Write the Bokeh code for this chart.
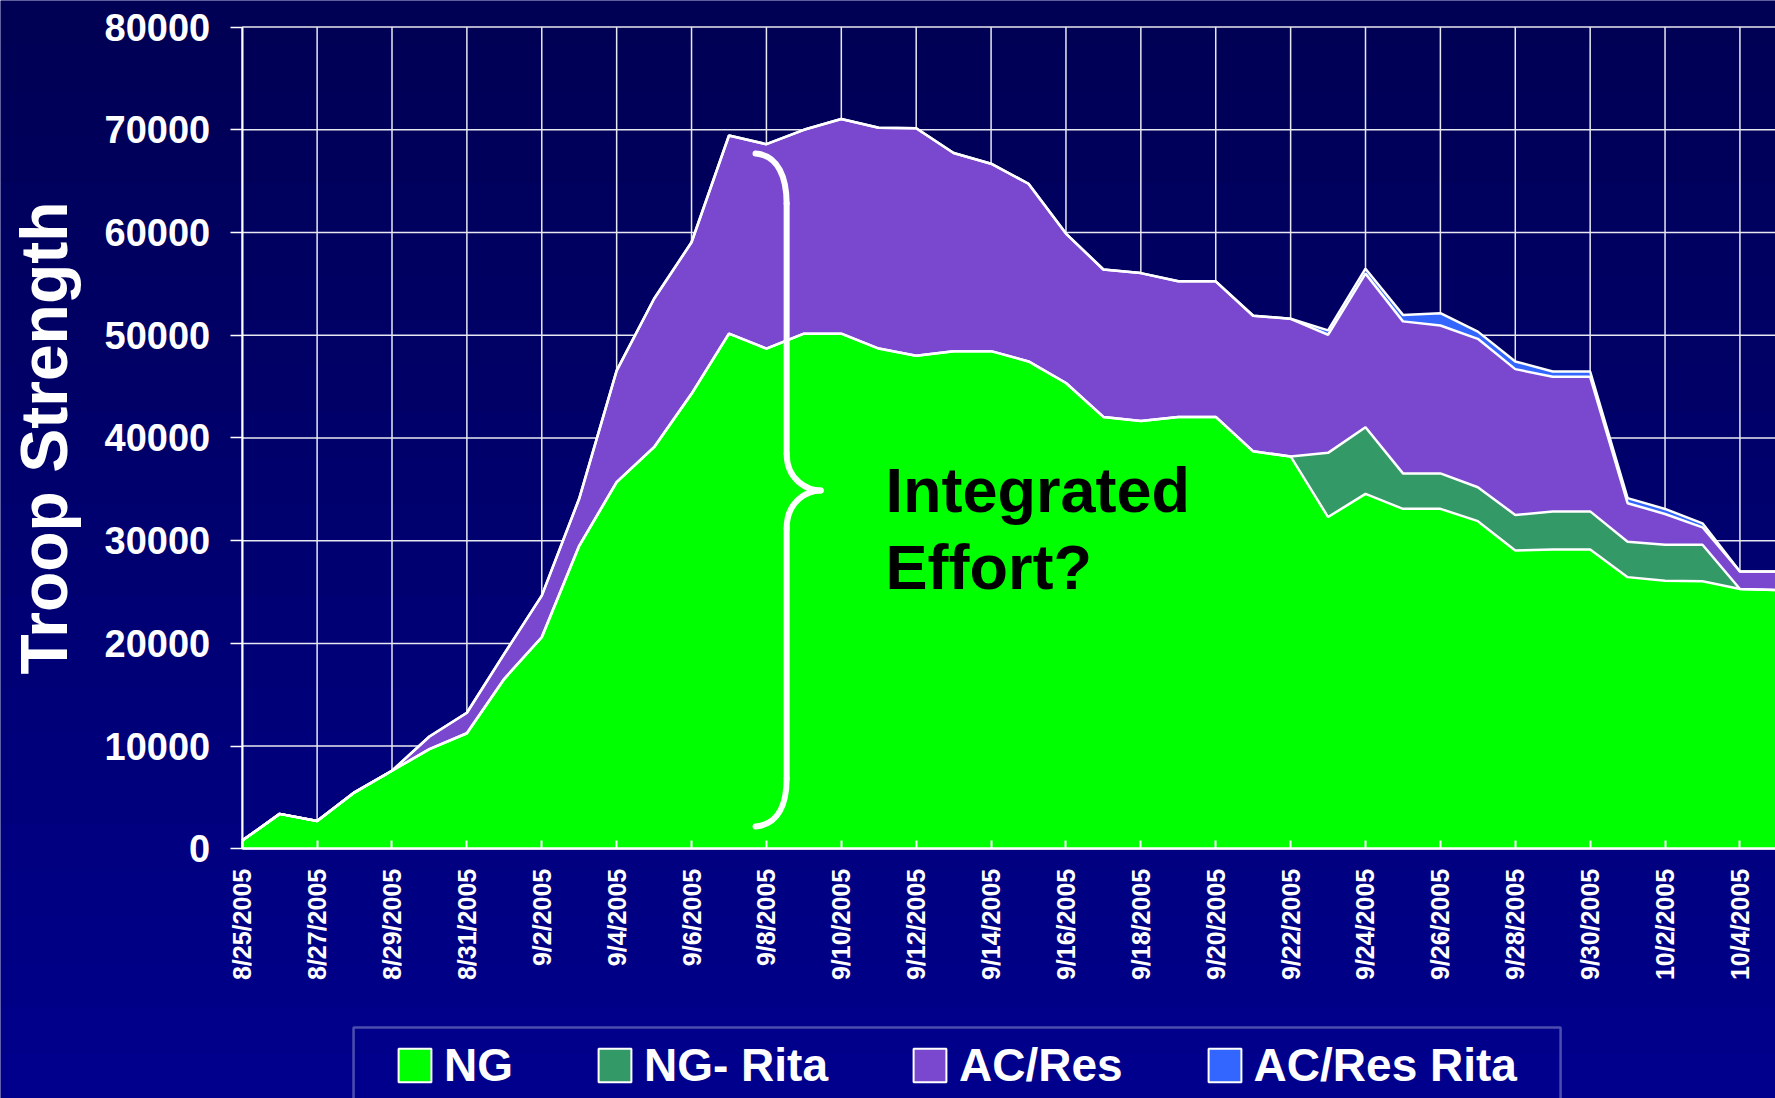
import math
import numpy as np
from bokeh.plotting import figure
from bokeh.models import (Range1d, FixedTicker, Label, Legend, LegendItem,
                          ColumnDataSource, BoxAnnotation)
from bokeh.embed import file_html
from bokeh.resources import INLINE

# ---------------- data ----------------
dates = ([f"8/{d}/2005" for d in range(25, 32)] +
         [f"9/{d}/2005" for d in range(1, 31)] +
         [f"10/{d}/2005" for d in range(1, 6)])

ng = [800, 3400, 2700, 5500, 7600, 9700, 11250, 16550, 20600, 29500,
      35700, 39100, 44300, 50150, 48700, 50150, 50150, 48700, 48000, 48450,
      48450, 47450, 45350, 42050, 41650, 42050, 42050, 38700, 38200, 32300,
      34550, 33100, 33100, 31900, 29050, 29150, 29150, 26450, 26100, 26050,
      25300, 25200]
ng_rita = [0] * 29 + [6250, 6500, 3450, 3450, 3300, 3450, 3700, 3700, 3450,
                      3500, 3550, 0, 0]
ac_res = [0, 0, 0, 0, 0, 1230, 2000, 2450, 4050, 4600,
          10850, 14450, 14750, 19300, 19900, 19850, 20900, 21500, 22150, 19300,
          18250, 17300, 14550, 14350, 14400, 13200, 13200, 13200, 13400, 11500,
          14950, 14800, 14400, 14450, 14200, 13100, 13100, 3750, 3000, 1700,
          1700, 1800]
ac_res_rita = [0] * 29 + [420, 480, 630, 1200, 700, 750, 520, 520, 490, 490,
                          390, 0, 0]

series_names = ["NG", "NG- Rita", "AC/Res", "AC/Res Rita"]
series_colors = ["#00FF00", "#339966", "#7A48CE", "#3366FF"]
y_ticks = [0, 10000, 20000, 30000, 40000, 50000, 60000, 70000, 80000]
x_tick_idx = list(range(0, 41, 2))

# ---------------- figure ----------------
FONT = "Liberation Sans"
GRID = "#e8e8f0"
X0, X1 = -6.456, 40.95
Y0, Y1 = -24310, 82590

# the frame fills the whole canvas; both axes are pinned at 0
p = figure(width=1775, height=1098, output_backend="svg", toolbar_location=None,
           x_range=Range1d(X0, X1), y_range=Range1d(Y0, Y1),
           min_border_left=0, min_border_right=0, min_border_top=0,
           min_border_bottom=0)
p.background_fill_color = "#00006E"
p.border_fill_color = "#00006E"
p.outline_line_color = None

# slide-like background: dark navy at the top getting lighter downward
n_bands = 24
edges = np.linspace(Y1, Y0, n_bands + 1)
top_rgb, bot_rgb = np.array([0, 0, 84]), np.array([0, 0, 140])
band_cols = ["#%02x%02x%02x" % tuple(np.round(top_rgb + (bot_rgb - top_rgb) * t).astype(int))
             for t in np.linspace(0, 1, n_bands)]
p.quad(left=[X0] * n_bands, right=[X1] * n_bands, top=edges[:-1],
       bottom=edges[1:], fill_color=band_cols, line_color=None, level="image")

# grid lines, limited to the value range
p.xgrid.visible = False
p.ygrid.visible = False
p.segment(x0=x_tick_idx, y0=[y_ticks[0]] * len(x_tick_idx), x1=x_tick_idx,
          y1=[y_ticks[-1]] * len(x_tick_idx), line_color=GRID, line_width=1.5,
          level="underlay")
p.segment(x0=[0] * len(y_ticks), y0=y_ticks, x1=[X1] * len(y_ticks),
          y1=y_ticks, line_color=GRID, line_width=1.5, level="underlay")

x = list(range(len(dates)))
src = ColumnDataSource(dict(x=x, ng=ng, ng_rita=ng_rita, ac_res=ac_res,
                            ac_res_rita=ac_res_rita))
stackers = ["ng", "ng_rita", "ac_res", "ac_res_rita"]
p.varea_stack(stackers=stackers, x="x", color=series_colors, source=src)
p.vline_stack(stackers=stackers, x="x", color="white", line_width=2.5,
              source=src)

# ---------------- axes ----------------
xa = p.xaxis[0]
xa.fixed_location = 0
xa.bounds = (0, X1 + 1)
xa.ticker = FixedTicker(ticks=x_tick_idx)
xa.major_label_overrides = {i: dates[i] for i in x_tick_idx}
xa.major_label_orientation = math.pi / 2
xa.major_label_text_font = FONT
xa.major_label_text_font_style = "bold"
xa.major_label_text_font_size = "25px"
xa.major_label_text_color = "white"
xa.major_label_standoff = 20
xa.major_tick_in = 8
xa.major_tick_out = 0
xa.major_tick_line_color = "white"
xa.major_tick_line_width = 2
xa.minor_tick_line_color = None
xa.axis_line_color = "white"
xa.axis_line_width = 2.5

ya = p.yaxis[0]
ya.fixed_location = 0
ya.bounds = (y_ticks[0], y_ticks[-1])
ya.ticker = FixedTicker(ticks=y_ticks)
ya.major_label_overrides = {v: str(v) for v in y_ticks}
ya.major_label_text_font = FONT
ya.major_label_text_font_style = "bold"
ya.major_label_text_font_size = "38px"
ya.major_label_text_color = "white"
ya.major_label_standoff = 20
ya.major_tick_in = 0
ya.major_tick_out = 12
ya.major_tick_line_color = "white"
ya.major_tick_line_width = 1.5
ya.minor_tick_line_color = None
ya.axis_line_color = "white"
ya.axis_line_width = 2

# axis title centred on the 0..80000 value span
p.add_layout(Label(x=-5.307, y=(y_ticks[0] + y_ticks[-1]) / 2,
                   text="Troop Strength", angle=math.pi / 2,
                   text_font=FONT, text_font_style="bold",
                   text_font_size="66px", text_color="white",
                   text_align="center", text_baseline="alphabetic"))

# ---------------- brace annotation ----------------
brace_color = "white"
bw = 6
p.bezier(x0=[13.71, 14.54, 15.45, 14.54], y0=[67700, 38490, 34890, 6845],
         x1=[14.54, 15.45, 14.54, 13.71], y1=[62830, 34890, 31190, 2170],
         cx0=[14.33, 14.54, 15.13, 14.54], cy0=[67500, 35800, 34890, 4410],
         cx1=[14.54, 15.13, 14.54, 14.33], cy1=[65270, 34890, 33980, 2370],
         line_color=brace_color, line_width=bw, line_cap="round")
p.segment(x0=[14.54, 14.54], y0=[62830, 31190], x1=[14.54, 14.54],
          y1=[38490, 6845], line_color=brace_color, line_width=bw,
          line_cap="round")

for txt, yy in (("Integrated", 34890), ("Effort?", 27420)):
    p.add_layout(Label(x=17.18, y=yy, text=txt, text_font=FONT,
                       text_font_style="bold", text_font_size="63px",
                       text_color="black", text_baseline="alphabetic",
                       text_align="left"))

# ---------------- legend ----------------
items = []
nan = float("nan")
for name, col in zip(series_names, series_colors):
    r = p.quad(left=[nan], right=[nan], top=[nan], bottom=[nan],
               fill_color=col, line_color="white", line_width=2)
    items.append(LegendItem(label=name, renderers=[r]))

legend = Legend(items=items, orientation="horizontal", location=(394, 6),
                glyph_width=41, glyph_height=42, label_standoff=9,
                spacing=81, padding=10, margin=0,
                label_text_font=FONT, label_text_font_style="bold",
                label_text_font_size="46px", label_text_color="white",
                border_line_color=None, background_fill_alpha=0)
p.add_layout(legend)

# legend frame (open at the bottom edge of the slide, as in the original)
p.add_layout(BoxAnnotation(left=2.973, right=35.21, top=-17398, bottom=-26500,
                           fill_color=None, line_color="white",
                           line_width=2.5))

html = file_html(p, INLINE, title="Troop Strength")
open("out.html", "w").write(html)
